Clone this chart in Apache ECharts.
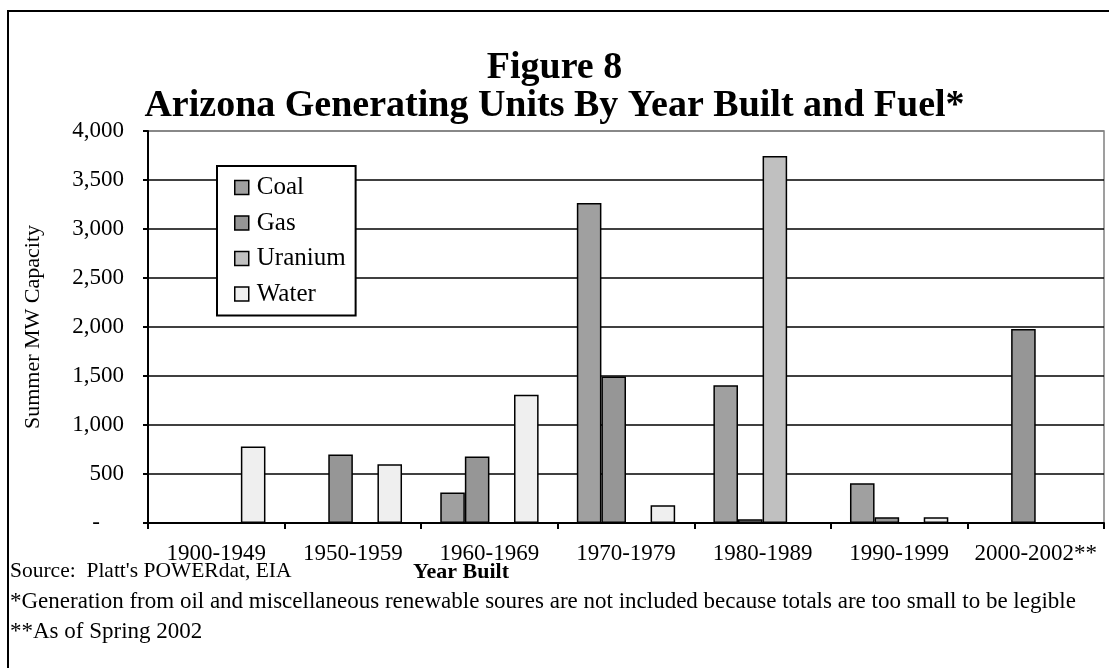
<!DOCTYPE html>
<html>
<head>
<meta charset="utf-8">
<title>Figure 8</title>
<script src="https://cdn.jsdelivr.net/npm/echarts@6/dist/echarts.min.js"></script>
<style>
  html, body { margin: 0; padding: 0; background: #fff; }
  #chart { width: 1109px; height: 668px; }
</style>
</head>
<body>
<div id="chart"></div>
<script>
// data (MW)
const years = ["1900-1949", "1950-1959", "1960-1969", "1970-1979", "1980-1989", "1990-1999", "2000-2002**"];
const coal = [null, null, 310, 3265, 1405, 405, null];
const gas = [null, 700, 678, 1495, 38, 58, 1980];
const uranium = [null, null, null, null, 3745, null, null];
const water = [780, 600, 1308, 182, null, 58, null];

const fuels = ["Coal", "Gas", "Uranium", "Water"];
const fuelColors = ["#a0a0a0", "#969696", "#c0c0c0", "#efefef"];

const serif = "Liberation Serif";
const myChart = echarts.init(document.getElementById("chart"));

const mkBar = (name, data, i) => ({
  name: name,
  type: "bar",
  data: data,
  barGap: "0%",
  barCategoryGap: "28%",
  itemStyle: { color: fuelColors[i], borderColor: "#000", borderWidth: 1.5 },
  emphasis: { disabled: true }
});

const option = {
  animation: false,
  backgroundColor: "#fff",
  title: {
    text: "Figure 8\nArizona Generating Units By Year Built and Fuel*",
    left: "center",
    top: 44,
    textStyle: { fontFamily: serif, fontSize: 38, fontWeight: "bold", color: "#000", lineHeight: 38 }
  },
  legend: {
    orient: "vertical",
    left: 217,
    top: 166,
    data: fuels,
    backgroundColor: "#fff",
    borderColor: "#000",
    borderWidth: 2,
    padding: [9, 10, 9, 17],
    itemWidth: 14,
    itemHeight: 14,
    itemGap: 10.5,
    icon: "rect",
    itemStyle: { borderColor: "#000", borderWidth: 1.5 },
    textStyle: { fontFamily: serif, fontSize: 25, color: "#000", padding: [0, 0, 0, 3] }
  },
  grid: {
    left: 148,
    right: 5,
    top: 131,
    bottom: 145,
    show: true,
    borderColor: "#808080",
    borderWidth: 1.5,
    containLabel: false
  },
  xAxis: {
    type: "category",
    data: years,
    axisLine: { lineStyle: { color: "#000", width: 2 } },
    axisTick: { show: true, length: 6, lineStyle: { color: "#000", width: 2 } },
    axisLabel: { fontFamily: serif, fontSize: 23, color: "#000", margin: 19, interval: 0 },
    splitLine: { show: false }
  },
  yAxis: {
    type: "value",
    min: 0,
    max: 4000,
    interval: 500,
    name: "Summer MW Capacity",
    nameLocation: "middle",
    nameGap: 104,
    nameRotate: 90,
    nameTextStyle: { fontFamily: serif, fontSize: 22, color: "#000" },
    axisLine: { show: true, lineStyle: { color: "#000", width: 2 } },
    axisTick: { show: true, length: 5, lineStyle: { color: "#000", width: 2 } },
    axisLabel: {
      fontFamily: serif,
      fontSize: 23,
      color: "#000",
      margin: 24,
      formatter: v => (v === 0 ? "{d|-}" : v.toLocaleString("en-US")),
      rich: { d: { fontFamily: serif, fontSize: 23, color: "#000", padding: [0, 24, 0, 0] } }
    },
    splitLine: {
      show: true,
      lineStyle: {
        color: ["#000", "#000", "#000", "#000", "#000", "#000", "#000", "#000", "#808080"],
        width: 1.5
      }
    }
  },
  series: [
    mkBar("Coal", coal, 0),
    mkBar("Gas", gas, 1),
    mkBar("Uranium", uranium, 2),
    mkBar("Water", water, 3)
  ],
  graphic: [
    {
      type: "rect",
      silent: true,
      z: -1,
      shape: { x: 8, y: 11, width: 1300, height: 900 },
      style: { fill: null, stroke: "#000", lineWidth: 2 }
    },
    {
      type: "text",
      left: 10,
      top: 560,
      style: { text: "Source:  Platt's POWERdat, EIA", font: "21.5px '" + serif + "'", fill: "#000" }
    },
    {
      type: "text",
      x: 461,
      y: 561,
      style: { text: "Year Built", font: "bold 22px '" + serif + "'", fill: "#000", textAlign: "center" }
    },
    {
      type: "text",
      left: 10,
      top: 590,
      style: {
        text: "*Generation from oil and miscellaneous renewable soures are not included because totals are too small to be legible",
        font: "23px '" + serif + "'",
        fill: "#000"
      }
    },
    {
      type: "text",
      left: 10,
      top: 620,
      style: { text: "**As of Spring 2002", font: "23px '" + serif + "'", fill: "#000" }
    }
  ]
};

option && myChart.setOption(option);
</script>
</body>
</html>
